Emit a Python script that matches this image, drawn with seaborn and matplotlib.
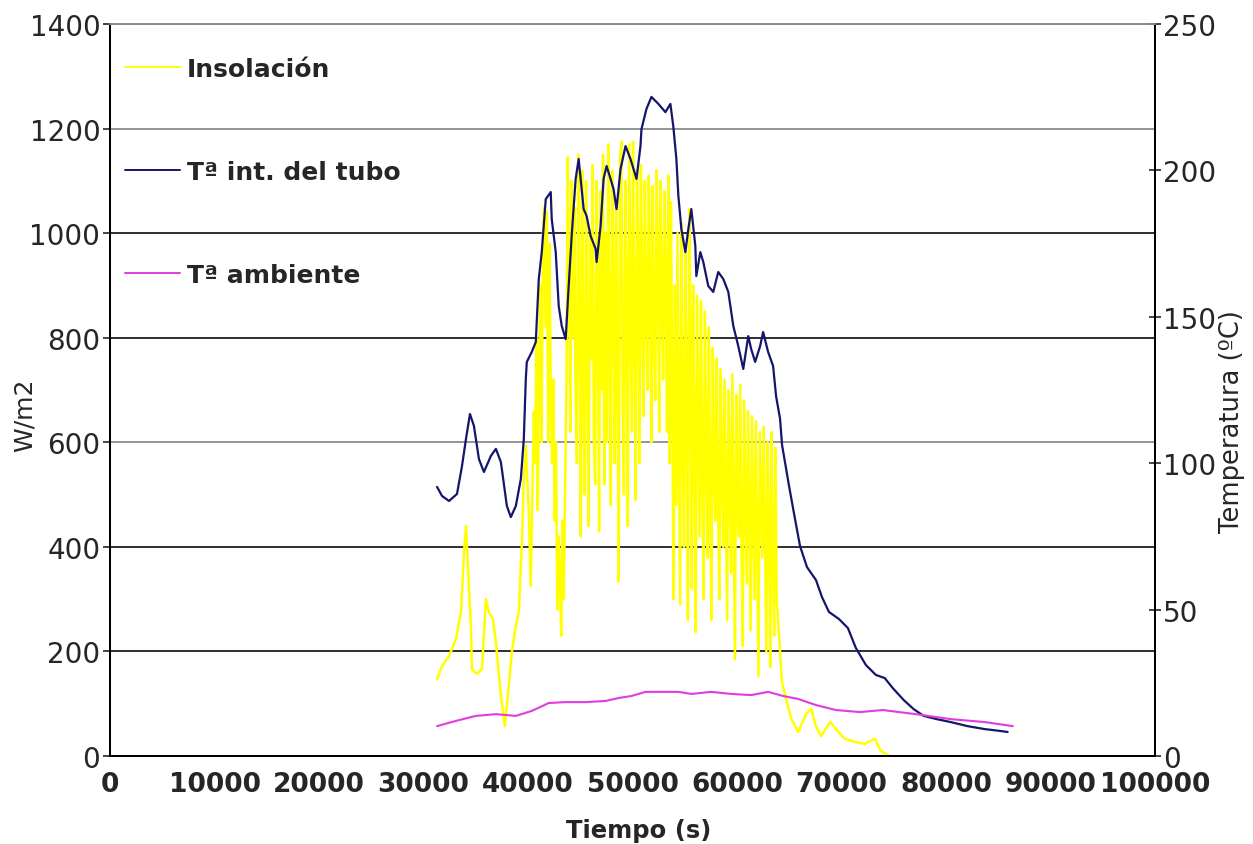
"""Insolación y temperaturas del tubo frente al tiempo."""

import matplotlib

matplotlib.use("Agg")

import matplotlib.pyplot as plt
import pandas as pd
import seaborn as sns
from matplotlib.ticker import FuncFormatter


# Insolación (W/m2) frente a tiempo (s)
insol_time = [
    31298, 31775, 32443, 33111, 33588, 33874, 34065, 34256, 34542, 34638,
    35115, 35592, 35973, 36260, 36641, 36928, 37405, 37786, 38073, 38455,
    38836, 39122, 39408, 39599, 39790, 40076, 40267,
    40554, 40679, 40804, 40929, 41054, 41179, 41304, 41429, 41554, 41679,
    41804, 41929, 42054, 42179, 42304, 42429, 42554, 42679, 42804, 42929,
    43054, 43179, 43304, 43429, 43554, 43679, 43804, 43929, 44054, 44179,
    44304, 44429, 44554, 44679, 44804, 44929, 45054, 45179, 45304, 45429,
    45554, 45679, 45804, 45929, 46054, 46179, 46304, 46429, 46554, 46679,
    46804, 46929, 47054, 47179, 47304, 47429, 47554, 47679, 47804, 47929,
    48054, 48179, 48304, 48429, 48554, 48679, 48804, 48929, 49054, 49179,
    49304, 49429, 49554, 49679, 49804, 49929, 50054, 50179, 50304, 50429,
    50554, 50679, 50804, 50929, 51054, 51179, 51304, 51429, 51554, 51679,
    51804, 51929, 52054, 52179, 52304, 52429, 52554, 52679, 52804, 52929,
    53054, 53179, 53304, 53429, 53554, 53679, 53804, 53929, 54054, 54179,
    54304, 54429, 54554, 54679, 54804, 54929, 55054, 55179, 55304, 55429,
    55554, 55679, 55804, 55929, 56054, 56179, 56304, 56429, 56554, 56679,
    56804, 56929, 57054, 57179, 57304, 57429, 57554, 57679, 57804, 57929,
    58054, 58179, 58304, 58429, 58554, 58679, 58804, 58929, 59054, 59179,
    59304, 59429, 59554, 59679, 59804, 59929, 60054, 60179, 60304, 60429,
    60554, 60679, 60804, 60929, 61054, 61179, 61304, 61429, 61554, 61679,
    61804, 61929, 62054, 62179, 62304, 62429, 62554, 62679, 62804, 62929,
    63054, 63179, 63304, 63429, 63554, 63679, 63804,
    64300, 64700, 65200, 65850, 66600, 67100, 67550, 68050, 68900, 69450,
    70300, 71300, 72200, 73200, 73750, 74600,
]
insol_wm2 = [
    147, 172, 191, 224, 275, 390, 440, 363, 243, 166,
    157, 166, 300, 275, 262, 218, 115, 57, 115, 199,
    249, 275, 402, 530, 593, 467, 325,
    658, 560, 800, 470, 720, 900, 600, 1000, 1050, 820,
    1040, 600, 980, 700, 560, 720, 450, 600, 280, 420,
    350, 230, 450, 300, 520, 700, 1145, 900, 620, 1100,
    800, 1050, 700, 560, 1150, 900, 420, 1120, 700, 500,
    1100, 800, 440, 1000, 760, 1130, 600, 520, 1100, 900,
    430, 1080, 700, 1150, 520, 1000, 600, 1170, 800, 480,
    1120, 900, 560, 1060, 750, 333, 1140, 1175, 700, 500,
    1100, 850, 440, 1170, 900, 620, 1175, 800, 490, 1120,
    950, 560, 1130, 900, 650, 1100, 850, 700, 1110, 900,
    600, 1090, 800, 680, 1120, 950, 620, 1100, 880, 720,
    1080, 900, 620, 1110, 560, 1060, 700, 300, 900, 480,
    1000, 650, 290, 1020, 600, 400, 980, 700, 260, 1046,
    800, 320, 900, 600, 237, 880, 650, 420, 870, 550,
    300, 850, 600, 380, 820, 500, 260, 780, 550, 450,
    760, 500, 300, 740, 550, 400, 720, 480, 260, 700,
    550, 350, 730, 450, 185, 690, 520, 420, 710, 400,
    210, 680, 500, 330, 660, 450, 240, 650, 480, 300,
    640, 400, 153, 620, 500, 380, 630, 420, 199, 600,
    450, 170, 620, 400, 230, 590, 300,
    141, 109, 71, 46, 80, 90, 57, 38, 65, 52,
    33, 27, 23, 33, 10, 0,
]

# Temperatura interior del tubo (ºC)
tube_time = [
    31298, 31775, 32443, 33206, 33683, 34065, 34447, 34828, 35305, 35783,
    36450, 36928, 37405, 37977, 38359, 38836, 39313, 39599, 39790, 39886,
    40363, 40744, 41031, 41317, 41699, 42176, 42271, 42653, 42939, 43225,
    43607, 43893, 44179, 44561, 44847, 45038, 45325, 45611, 45992, 46470,
    46565, 46947, 47233, 47519, 47901, 48187, 48473, 48855, 49332, 49809,
    50096, 50382, 50763, 50859, 51336, 51813, 52481, 53149, 53626, 53912,
    54199, 54389, 54676, 55057, 55344, 55630, 56012, 56107, 56489, 56775,
    57252, 57729, 58206, 58691, 59168, 59645, 60122, 60600, 61077, 61355,
    61737, 62214, 62500, 62977, 63454, 63740, 64122, 64313, 64981, 65554,
    66031, 66699, 67557, 68130, 68798, 69752, 70611, 71374, 72329, 73283,
    74142, 74905, 75955, 76909, 77863, 79104, 80439, 82061, 83683, 85305,
    85900,
]
tube_temp = [
    91.9, 88.8, 87.1, 89.5, 99.0, 108.3, 116.8, 112.7, 101.4, 97.0,
    102.5, 104.9, 100.4, 85.4, 81.6, 85.4, 94.6, 108.3, 128.8, 134.6,
    138.0, 141.4, 162.9, 172.1, 190.2, 192.6, 183.4, 172.1, 153.7, 146.9,
    142.4, 160.5, 177.6, 197.1, 203.9, 197.1, 186.8, 184.4, 177.6, 173.2,
    168.7, 181.0, 197.1, 201.5, 197.1, 193.6, 186.8, 200.5, 208.3, 203.9,
    200.5, 197.1, 208.3, 214.1, 221.0, 225.1, 222.7, 219.9, 222.7, 214.8,
    203.9, 191.3, 180.0, 172.1, 180.0, 186.8, 174.2, 163.9, 172.1, 168.7,
    160.5, 158.5, 165.3, 162.9, 158.5, 146.9, 140.0, 132.2, 143.4, 139.0,
    134.6, 140.0, 144.8, 138.0, 133.2, 122.9, 115.1, 106.2, 92.2, 80.9,
    71.7, 64.5, 60.1, 54.3, 49.2, 46.8, 43.7, 36.9, 31.1, 27.7,
    26.6, 23.2, 19.1, 16.0, 13.7, 12.6, 11.6, 10.2, 9.2, 8.5,
    8.2,
]

# Temperatura ambiente (ºC)
amb_time = [
    31298, 33111, 35019, 36928, 38836, 40363, 41985, 43607, 45516, 47424,
    48664, 49905, 51241, 53149, 54389, 55630, 57538, 59447, 61355, 62977,
    64409, 65840, 67557, 69466, 71756, 73950, 77099, 80439, 83683, 86400,
]
amb_temp = [
    10.2, 12.0, 13.7, 14.3, 13.7, 15.4, 18.1, 18.4, 18.4, 18.8,
    19.8, 20.5, 21.9, 21.9, 21.9, 21.2, 21.9, 21.2, 20.8, 21.9,
    20.5, 19.5, 17.4, 15.7, 15.0, 15.7, 14.3, 12.6, 11.6, 10.2,
]

x_ticks = list(range(0, 100001, 10000))
left_ticks = list(range(0, 1401, 200))
right_ticks = list(range(0, 251, 50))
dark_grid = {200, 400, 800, 1000}

insol = pd.DataFrame({"Tiempo": insol_time, "W": insol_wm2})
tube = pd.DataFrame({"Tiempo": tube_time, "T": tube_temp})
amb = pd.DataFrame({"Tiempo": amb_time, "T": amb_temp})

sns.set_style("white")
plt.rcParams["font.family"] = ["DejaVu Sans"]

fig = plt.figure(figsize=(12.53, 8.45), dpi=100)
ax = fig.add_axes([110 / 1253, 1 - 757 / 845, 1045 / 1253, 732 / 845])
ax2 = ax.twinx()

sns.lineplot(data=insol, x="Tiempo", y="W", ax=ax, color="#ffff00", linewidth=1.8,
             estimator=None, sort=False, label="Insolación", legend=False)
sns.lineplot(data=tube, x="Tiempo", y="T", ax=ax2, color="#15156c", linewidth=1.6,
             estimator=None, sort=False, label="Tª int. del tubo", legend=False)
sns.lineplot(data=amb, x="Tiempo", y="T", ax=ax2, color="#e03ce0", linewidth=1.5,
             estimator=None, sort=False, label="Tª ambiente", legend=False)

ax.set_xlim(0, 100000)
ax.set_ylim(0, 1400)
ax2.set_ylim(0, 250)
ax.set_xticks(x_ticks)
ax.set_yticks(left_ticks)
ax2.set_yticks(right_ticks)
ax.xaxis.set_major_formatter(FuncFormatter(lambda v, p: f"{int(v)}"))

ax.set_axisbelow(True)
ax.grid(axis="y", linewidth=1.3)
for line, val in zip(ax.get_ygridlines(), left_ticks):
    line.set_color("#1e1e1e" if val in dark_grid else "#8c8c8c")
ax.grid(axis="x", visible=False)
ax2.grid(False)

for a in (ax, ax2):
    for side in ("left", "right", "bottom"):
        a.spines[side].set_color("black")
        a.spines[side].set_linewidth(1.4)
    a.spines["top"].set_color("#8c8c8c")
    a.spines["top"].set_linewidth(1.3)

ax.tick_params(axis="y", direction="out", length=5, width=1.2, labelsize=20, pad=2)
ax.tick_params(axis="x", direction="out", length=5, width=1.2, labelsize=19, pad=6)
ax2.tick_params(axis="y", direction="inout", length=9, width=1.2, labelsize=20, pad=1)
for lab in ax.get_xticklabels():
    lab.set_fontweight("bold")

ax.set_xlabel("Tiempo (s)", fontsize=17.5, fontweight="bold")
ax.xaxis.set_label_coords(0.506, -0.0847)
ax.set_ylabel("W/m2", fontsize=18)
ax.yaxis.set_label_coords(-0.0705, 0.467)
ax2.set_ylabel("Temperatura (ºC)", fontsize=18.5)
ax2.yaxis.set_label_coords(1.0612, 0.4577)

handles = ax.get_lines()[:1] + ax2.get_lines()[:2]
labels = ["Insolación", "Tª int. del tubo", "Tª ambiente"]
leg = ax2.legend(handles, labels, loc="upper left", bbox_to_anchor=(0.0143, 0.9556),
                 frameon=False, borderpad=0, borderaxespad=0, handlelength=2.2,
                 handletextpad=0.28, labelspacing=3.16,
                 prop={"weight": "bold", "size": 18})
for h in leg.get_lines():
    h.set_linewidth(1.4)

fig.savefig("out.png", dpi=100)
